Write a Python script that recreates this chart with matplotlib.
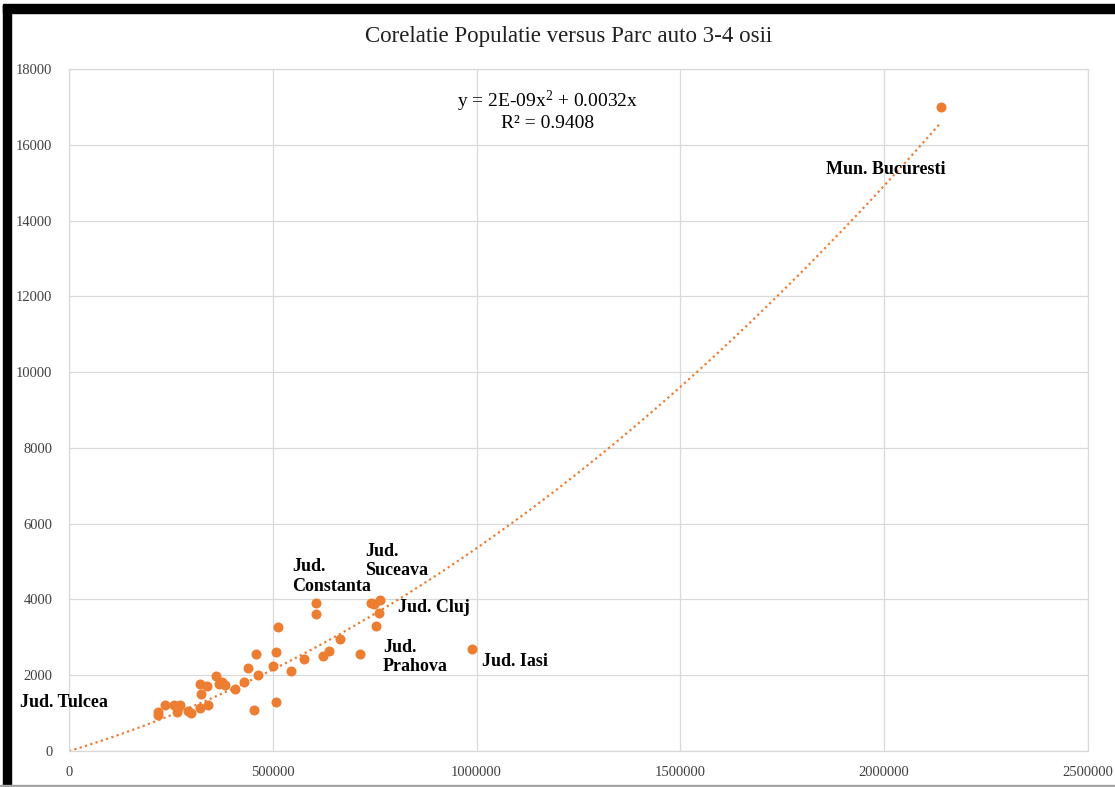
import numpy as np
import matplotlib
matplotlib.use("Agg")
import matplotlib.pyplot as plt
from matplotlib.patches import Rectangle
from matplotlib.ticker import FuncFormatter

plt.rcParams['font.family'] = ['Liberation Serif', 'DejaVu Serif']
plt.rcParams['mathtext.fontset'] = 'custom'
plt.rcParams['mathtext.rm'] = 'Liberation Serif'
plt.rcParams['mathtext.it'] = 'Liberation Serif'

# populatie (x) si parc auto 3-4 osii (y)
populatie = [218300, 218300, 235800, 257600, 267200, 273400, 264600, 290800, 299600,
             320500, 323100, 320500, 338900, 341500, 361600, 366800, 374700, 382500,
             407000, 428800, 438400, 464600, 457600, 455000, 501300, 506600, 506600,
             512700, 544100, 575500, 606100, 606100, 622700, 638400, 664600, 714400,
             740600, 747600, 762400, 759800, 753700, 988600, 2139000]
parc_auto = [1029, 958, 1213, 1213, 1143, 1213, 1029, 1055, 993,
             1143, 1512, 1776, 1714, 1213, 1969, 1758, 1820, 1732,
             1626, 1820, 2198, 1996, 2558, 1090, 2242, 2620, 1284,
             3270, 2101, 2426, 3895, 3604, 2497, 2637, 2954, 2558,
             3895, 3868, 3982, 3640, 3297, 2681, 16990]

# etichete judete: text, x, y
etichete = [
    ("Jud. Tulcea", -120000, 1270),
    ("Jud.\nConstanta", 547000, 4600),
    ("Jud.\nSuceava", 727000, 5020),
    ("Jud. Cluj", 807000, 3800),
    ("Jud.\nPrahova", 770000, 2480),
    ("Jud. Iasi", 1013000, 2370),
    ("Mun. Bucuresti", 1857000, 15360),
]

x = np.array(populatie, dtype=float)
y = np.array(parc_auto, dtype=float)

# trendline polinomial grad 2, intercept 0
A = np.column_stack([x ** 2, x])
coef, *_ = np.linalg.lstsq(A, y, rcond=None)
xs = np.linspace(0, x.max(), 300)
ys = coef[0] * xs ** 2 + coef[1] * xs

orange = "#ED7D31"

fig = plt.figure(figsize=(11.15, 7.87), dpi=100)
ax = fig.add_axes([0.0619, 0.0457, 0.9139, 0.8666])

ax.plot(xs, ys, linestyle=(0, (1, 1.5)), color=orange, linewidth=1.6, zorder=2)
ax.scatter(x, y, s=52, color=orange, zorder=3, linewidths=0)

for txt, tx, ty in etichete:
    ax.text(tx, ty, txt, fontsize=13, fontweight="bold", ha="left", va="center",
            linespacing=1.2, zorder=4, clip_on=False)

ax.text(1173000, 17150, r"y = 2E-09x$^{2}$ + 0.0032x", fontsize=14,
        ha="center", va="center")
ax.text(1173000, 16570, "R² = 0.9408", fontsize=14, ha="center", va="center")

ax.set_xlim(0, 2500000)
ax.set_ylim(0, 18000)
ax.set_xticks(np.arange(0, 2500001, 500000))
ax.set_yticks(np.arange(0, 18001, 2000))
ax.xaxis.set_major_formatter(FuncFormatter(lambda v, p: f"{int(v)}"))
ax.grid(True, color="#D9D9D9", linewidth=0.9)
ax.set_axisbelow(True)
for sp in ax.spines.values():
    sp.set_color("#D9D9D9")
    sp.set_linewidth(0.9)
ax.tick_params(length=0, labelsize=10.5, colors="#404040")
ax.tick_params(axis="x", pad=11)
ax.tick_params(axis="y", pad=12)

fig.text(0.51, 0.953, "Corelatie Populatie versus Parc auto 3-4 osii",
         fontsize=16.5, ha="center", va="center", color="#202020")

# rama neagra (sus si stanga) si linia gri de jos
fig.patches.append(Rectangle((0.003, 0.984), 0.997, 0.0105, transform=fig.transFigure,
                             color="black", zorder=0))
fig.patches.append(Rectangle((0.003, 0.0), 0.0072, 0.994, transform=fig.transFigure,
                             color="black", zorder=0))
fig.patches.append(Rectangle((0.0, 0.0), 1.0, 0.002, transform=fig.transFigure,
                             color="#A6A6A6", zorder=0))

fig.savefig("out.png", dpi=100)
